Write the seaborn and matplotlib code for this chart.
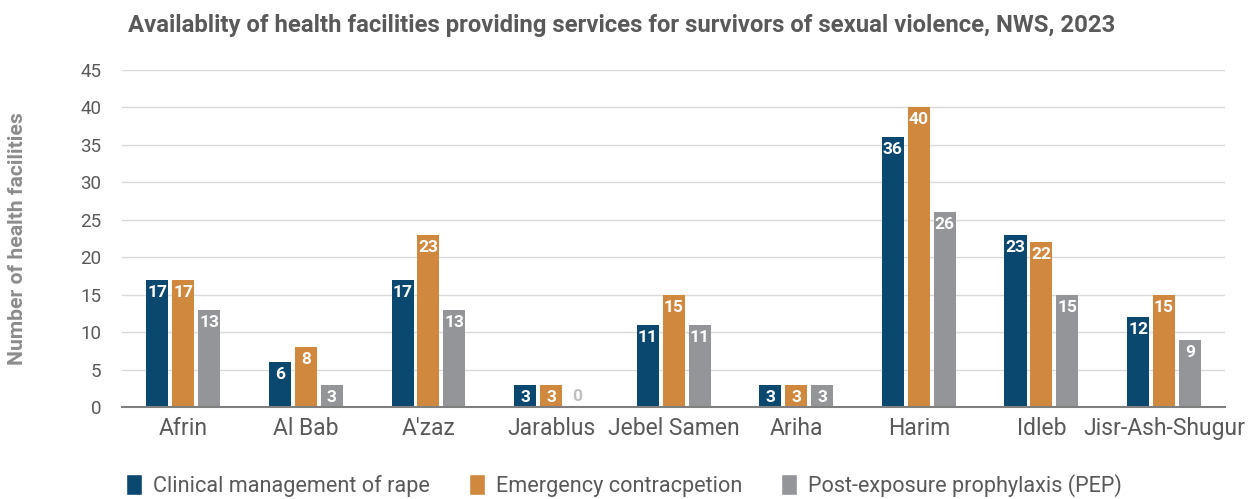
import matplotlib
matplotlib.use("Agg")
import matplotlib.pyplot as plt
import seaborn as sns
import pandas as pd
from matplotlib.patches import Patch

districts = ["Afrin", "Al Bab", "A'zaz", "Jarablus", "Jebel Samen", "Ariha", "Harim", "Idleb", "Jisr-Ash-Shugur"]
clinical = [17, 6, 17, 3, 11, 3, 36, 23, 12]
emergency = [17, 8, 23, 3, 15, 3, 40, 22, 15]
pep = [13, 3, 13, 0, 11, 3, 26, 15, 9]
series = ["Clinical management of rape", "Emergency contracpetion", "Post-exposure prophylaxis (PEP)"]
colors = ["#0B4870", "#D0873E", "#939598"]

rows = []
for name, vals in zip(series, [clinical, emergency, pep]):
    for d, v in zip(districts, vals):
        rows.append({"District": d, "Service": name, "Count": v})
df = pd.DataFrame(rows)

sns.set_theme(style="white")
plt.rcParams['font.family'] = ['Roboto', 'DejaVu Sans']

fig = plt.figure(figsize=(12.58, 4.99), dpi=100)
ax = fig.add_axes([0.097, 0.184, 0.877, 0.676])

sns.barplot(data=df, x="District", y="Count", hue="Service", order=districts,
            hue_order=series, palette=colors, width=0.634, gap=0.15,
            ax=ax, legend=False, saturation=1, edgecolor="none")

ax.set_ylim(0, 45)
ax.set_xlim(-0.5, len(districts) - 0.5)
ax.set_yticks(range(0, 46, 5))
ax.yaxis.grid(True, color="#D9D9D9", linewidth=1)
ax.set_axisbelow(True)
for s in ["top", "right", "left"]:
    ax.spines[s].set_visible(False)
ax.spines["bottom"].set_color("#7F7F7F")
ax.spines["bottom"].set_linewidth(1.5)

ax.tick_params(axis="y", labelsize=13.5, labelcolor="#595959", length=7, color="#D9D9D9", pad=8)
ax.tick_params(axis="x", labelsize=16.5, labelcolor="#595959", length=0, pad=7)
ax.set_xlabel("")
ax.set_ylabel("Number of health facilities", fontsize=15.2, fontweight="bold", color="#8C8C8C", labelpad=38)

for cont in ax.containers:
    for bar in cont:
        h = bar.get_height()
        cx = bar.get_x() + bar.get_width() / 2
        if h >= 1:
            ax.annotate(f"{int(h)}", (cx, h), xytext=(0, -3.5), textcoords="offset points",
                        ha="center", va="top", color="white", fontsize=12.5, fontweight="bold")
        else:
            ax.annotate(f"{int(h)}", (cx, h), xytext=(0, 2), textcoords="offset points",
                        ha="center", va="bottom", color="#BFBFBF", fontsize=12.5, fontweight="bold")

fig.text(0.102, 0.948, "Availablity of health facilities providing services for survivors of sexual violence, NWS, 2023",
         fontsize=17.2, fontweight="bold", color="#595959", ha="left", va="center")

handles = [Patch(facecolor=c, label=s) for c, s in zip(colors, series)]
fig.legend(handles=handles, loc="lower center", bbox_to_anchor=(0.496, -0.035), ncol=3, frameon=False,
           fontsize=15.6, labelcolor="#595959", handlelength=0.75, handleheight=1.1, columnspacing=1.8, handletextpad=0.5)

fig.savefig("out.png", dpi=100)
